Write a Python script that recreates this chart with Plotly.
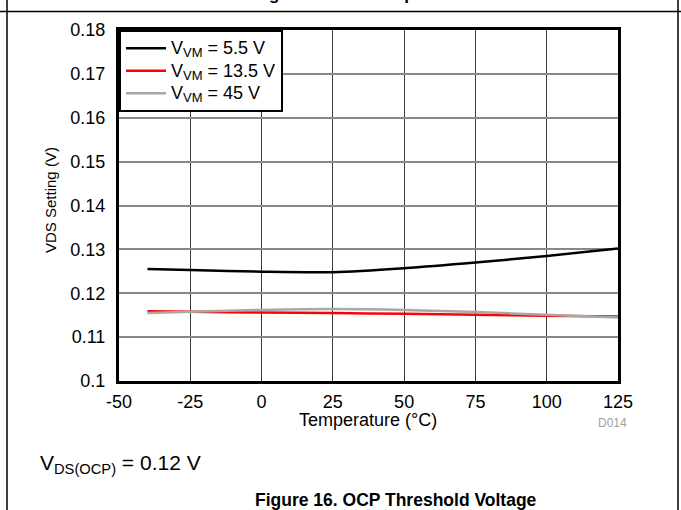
import plotly.graph_objects as go

temps = [-40, -25, 0, 25, 50, 75, 100, 125]
v_5p5 = [0.1255, 0.1253, 0.1249, 0.1248, 0.1257, 0.1270, 0.1285, 0.1302]
v_13p5 = [0.1159, 0.1158, 0.1156, 0.1155, 0.1153, 0.1151, 0.1149, 0.1147]
v_45 = [0.1155, 0.1158, 0.1162, 0.1164, 0.1162, 0.1157, 0.1151, 0.1145]
series_labels = ["5.5 V", "13.5 V", "45 V"]
series_colors = ["#000000", "#ff0000", "#a8a8a8"]
x_ticks = [-50, -25, 0, 25, 50, 75, 100, 125]
x_ticktext = ["-50", "-25", "0", "25", "50", "75", "100", "125"]
y_ticks = [0.10, 0.11, 0.12, 0.13, 0.14, 0.15, 0.16, 0.17, 0.18]
y_ticktext = ["0.1", "0.11", "0.12", "0.13", "0.14", "0.15", "0.16", "0.17", "0.18"]

FONT = "Arial, Liberation Sans, sans-serif"
W, H = 681, 510
L, R, T, B = 119, 63, 30, 129
PW, PH = W - L - R, H - T - B


def px(x):
    return (x - L) / PW


def py(y):
    return 1 - (y - T) / PH


def legend_name(v):
    return ('<span style="font-size:18px">V</span>'
            '<sub><span style="font-size:13px">VM</span></sub>'
            '<span style="font-size:18px"> = ' + v + '</span>')


fig = go.Figure()
for lab, ys, c in zip(series_labels, [v_5p5, v_13p5, v_45], series_colors):
    fig.add_trace(go.Scatter(x=temps, y=ys, mode="lines", name=legend_name(lab),
                             line=dict(color=c, width=2.5, shape="spline", smoothing=0.8)))

fig.update_layout(
    width=W, height=H,
    margin=dict(l=L, r=R, t=T, b=B, pad=0),
    paper_bgcolor="white", plot_bgcolor="white",
    font=dict(family=FONT, size=18, color="black"),
    showlegend=True,
    legend=dict(x=0, y=1, xanchor="left", yanchor="top",
                bgcolor="white", bordercolor="black", borderwidth=2,
                font=dict(size=15), tracegroupgap=0, itemwidth=40),
    xaxis=dict(range=[-50, 125], tickvals=x_ticks, ticktext=x_ticktext, showgrid=True,
               gridcolor="#3a3a3a", gridwidth=1, zeroline=False,
               showline=True, mirror=True, linecolor="black", linewidth=3,
               ticks="outside", ticklen=2, tickcolor="rgba(0,0,0,0)",
               tickfont=dict(size=18)),
    yaxis=dict(range=[0.1, 0.18], tickvals=y_ticks, ticktext=y_ticktext,
               showgrid=True, gridcolor="#888888", gridwidth=1.5, zeroline=False,
               showline=True, mirror=True, linecolor="black", linewidth=3,
               ticks="outside", ticklen=7, tickcolor="rgba(0,0,0,0)",
               tickfont=dict(size=18)),
)

ann = [
    dict(text="Temperature (\u00b0C)", x=px(368), y=py(420), font=dict(size=18)),
    dict(text="VDS Setting (V)", x=px(50), y=py(200), textangle=-90, font=dict(size=15)),
    dict(text="D014", x=px(612), y=py(423), font=dict(size=12, color="#a0a0a0")),
    dict(text="V<sub>DS(OCP)</sub> = 0.12 V", x=px(38), y=py(464), xanchor="left",
         font=dict(size=21)),
    dict(text="<b>Figure 16. OCP Threshold Voltage</b>", x=px(396), y=py(500),
         font=dict(size=17.5)),
    dict(text="<b>Figure 15. VM Sleep Current</b>", x=px(252), y=py(5.5), xanchor="left",
         yanchor="bottom", font=dict(size=17)),
]
for a in ann:
    a.setdefault("xanchor", "center")
    a.setdefault("yanchor", "middle")
    fig.add_annotation(xref="paper", yref="paper", showarrow=False, **a)

frame = dict(color="black", width=1.5)
fig.add_shape(type="line", xref="paper", yref="paper", x0=px(7), x1=px(7), y0=py(0), y1=py(H), line=frame)
fig.add_shape(type="line", xref="paper", yref="paper", x0=px(678), x1=px(678), y0=py(0), y1=py(H), line=frame)
fig.add_shape(type="line", xref="paper", yref="paper", x0=px(0), x1=px(W), y0=py(11.5), y1=py(11.5), line=frame)

fig.write_html("out.html", config={"displayModeBar": False},
               post_script="document.body.style.margin='0px';")
